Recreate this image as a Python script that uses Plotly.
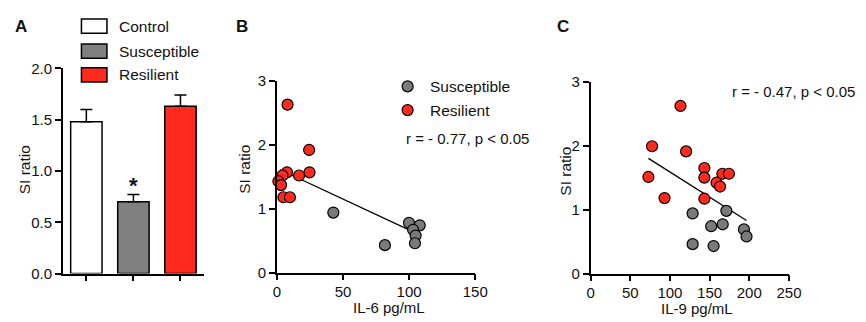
import plotly.graph_objects as go

# ---------------- data ----------------
groups = ["Control", "Susceptible", "Resilient"]
si_mean = [1.48, 0.70, 1.63]
si_sem = [0.12, 0.07, 0.11]

il6_res = [8.1, 24.4, 24.7, 16.8, 7.7, 4.2, 1.2, 3.2, 5.0, 9.9]
si6_res = [2.63, 1.92, 1.57, 1.52, 1.57, 1.52, 1.43, 1.37, 1.18, 1.18]
il6_sus = [42.7, 81.7, 99.9, 108.0, 103.0, 104.9, 104.4]
si6_sus = [0.94, 0.43, 0.78, 0.74, 0.67, 0.58, 0.46]
fit6_x = [2.5, 106.0]
fit6_y = [1.61, 0.61]

il9_res = [113.3, 77.5, 120.4, 143.4, 143.4, 72.9, 166.1, 174.3, 158.7, 163.2, 93.2, 143.4]
si9_res = [2.62, 1.99, 1.91, 1.65, 1.50, 1.51, 1.56, 1.56, 1.42, 1.36, 1.18, 1.17]
il9_sus = [128.6, 171.1, 152.0, 166.5, 193.3, 196.5, 128.6, 155.0]
si9_sus = [0.94, 0.98, 0.74, 0.77, 0.69, 0.58, 0.46, 0.43]
fit9_x = [72.9, 196.5]
fit9_y = [1.80, 0.83]

W, H = 866, 322
RED = "#FF2A1E"
GRAY = "#7A7A7A"
BARGRAY = "#808080"
FONT = "Liberation Sans, Arial, Helvetica, sans-serif"
TXT = "#111111"


def px(x):
    return x / W


def py(y):
    return 1 - y / H


fig = go.Figure()

# Panel A bars
fig.add_trace(go.Bar(
    x=[0, 1, 2], y=si_mean, width=0.667,
    marker=dict(color=["white", BARGRAY, RED], line=dict(color="black", width=1.5)),
    error_y=dict(type="data", symmetric=False, array=si_sem, arrayminus=[0, 0, 0],
                 width=6, thickness=1.5, color="black"),
    xaxis="x", yaxis="y", showlegend=False,
))

mk = dict(size=11, line=dict(color="black", width=1.2))
# Panel B
fig.add_trace(go.Scatter(x=fit6_x, y=fit6_y, mode="lines", line=dict(color="black", width=1.3),
                         xaxis="x2", yaxis="y2", showlegend=False, cliponaxis=False))
fig.add_trace(go.Scatter(x=il6_sus, y=si6_sus, mode="markers", marker=dict(color=GRAY, **mk),
                         xaxis="x2", yaxis="y2", showlegend=False, cliponaxis=False))
fig.add_trace(go.Scatter(x=il6_res, y=si6_res, mode="markers", marker=dict(color=RED, **mk),
                         xaxis="x2", yaxis="y2", showlegend=False, cliponaxis=False))
# Panel C
fig.add_trace(go.Scatter(x=fit9_x, y=fit9_y, mode="lines", line=dict(color="black", width=1.3),
                         xaxis="x3", yaxis="y3", showlegend=False, cliponaxis=False))
fig.add_trace(go.Scatter(x=il9_sus, y=si9_sus, mode="markers", marker=dict(color=GRAY, **mk),
                         xaxis="x3", yaxis="y3", showlegend=False, cliponaxis=False))
fig.add_trace(go.Scatter(x=il9_res, y=si9_res, mode="markers", marker=dict(color=RED, **mk),
                         xaxis="x3", yaxis="y3", showlegend=False, cliponaxis=False))

axis_common = dict(showline=True, linecolor="black", linewidth=1.5, ticks="outside",
                   ticklen=6, tickwidth=1.5, tickcolor="black", showgrid=False,
                   zeroline=False, tickfont=dict(family=FONT, size=15, color=TXT),
                   fixedrange=True)
xstand = dict(ticklabelstandoff=-1)

fig.update_layout(
    width=W, height=H, margin=dict(l=0, r=0, t=0, b=0),
    paper_bgcolor="white", plot_bgcolor="white",
    font=dict(family=FONT, color=TXT),
    xaxis=dict(domain=[px(60), px(204)], range=[-0.5, 2.5], tickvals=[0, 1, 2],
               ticktext=["", "", ""], anchor="y", **axis_common),
    yaxis=dict(domain=[py(279.3), py(62.7)], range=[0, 2], tickvals=[0, 0.5, 1, 1.5, 2],
               tickformat=".1f", anchor="x", **axis_common),
    xaxis2=dict(domain=[px(278.3), px(480.7)], range=[0, 150], dtick=50, anchor="y2",
                **axis_common, **xstand),
    yaxis2=dict(domain=[py(278.3), py(76)], range=[0, 3], dtick=1, anchor="x2", **axis_common),
    xaxis3=dict(domain=[px(598.3), px(800.7)], range=[0, 250], dtick=50, anchor="y3",
                **axis_common, **xstand),
    yaxis3=dict(domain=[py(279.3), py(76.7)], range=[0, 3], dtick=1, anchor="x3", **axis_common),
)

ann = []


def text(t, x, y, size=15, xanchor="left", bold=False, angle=0):
    ann.append(dict(text=("<b>%s</b>" % t) if bold else t, x=px(x), y=py(y), xref="paper",
                    yref="paper", xanchor=xanchor, yanchor="middle", showarrow=False,
                    textangle=angle, borderpad=0,
                    font=dict(family=FONT, size=size, color=TXT)))


# panel letters
text("A", 17.8, 19, size=17, xanchor="center", bold=True)
text("B", 243, 19, size=17, xanchor="center", bold=True)
text("C", 570.5, 19, size=17, xanchor="center", bold=True)
# axis titles
text("SI ratio", 20.7, 170, size=15.5, xanchor="center", angle=-90)
text("SI ratio", 245, 169.5, size=15.5, xanchor="center", angle=-90)
text("SI ratio", 573.3, 171.7, size=15.5, xanchor="center", angle=-90)
text("IL-6 pg/mL", 393, 315, xanchor="center")
text("IL-9 pg/mL", 707, 316, xanchor="center")
# star
text("*", 132, 186, size=22, xanchor="center", bold=True)
# stats
text("r = - 0.77, p < 0.05", 409, 136.7)
text("r = - 0.47, p < 0.05", 742, 87.3)

# legend A
shapes = []
for name, color, yc in zip(groups, ["white", BARGRAY, RED], [18, 44.5, 69.5]):
    shapes.append(dict(type="rect", xref="paper", yref="paper", x0=px(79), x1=px(105),
                       y0=py(yc + 7.5), y1=py(yc - 7.5), fillcolor=color,
                       line=dict(color="black", width=1.5)))
    text(name, 116, yc, size=15.5)

# legend B
for name, color, yc in zip(["Susceptible", "Resilient"], [GRAY, RED], [81.7, 106.7]):
    shapes.append(dict(type="circle", xref="paper", yref="paper", xsizemode="pixel",
                       ysizemode="pixel", xanchor=px(411.7), yanchor=py(yc),
                       x0=-5.5, x1=5.5, y0=-5.5, y1=5.5, fillcolor=color,
                       line=dict(color="black", width=1.2)))
    text(name, 434, yc, size=15.5)

fig.update_layout(annotations=ann, shapes=shapes)
fig.write_html("out.html", config={"displayModeBar": False},
               post_script="document.body.style.margin='0';document.body.style.overflow='hidden';")
